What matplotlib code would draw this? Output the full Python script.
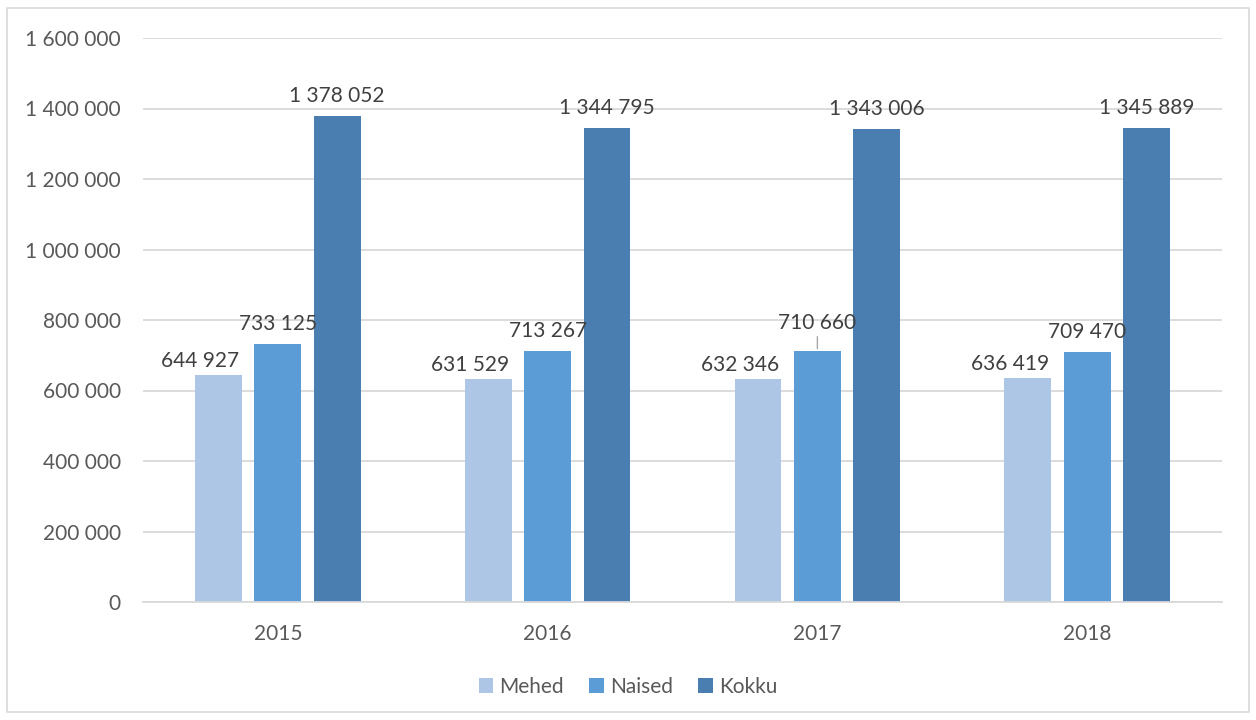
import matplotlib
matplotlib.use('Agg')
from matplotlib import pyplot as plt
from matplotlib.patches import Rectangle
import numpy as np

years = ['2015', '2016', '2017', '2018']
series = ['Mehed', 'Naised', 'Kokku']
mehed = [644927, 631529, 632346, 636419]
naised = [733125, 713267, 710660, 709470]
kokku = [1378052, 1344795, 1343006, 1345889]
colors = ['#ADC6E6', '#5B9BD6', '#4A7EB0']
yticks = [0, 200000, 400000, 600000, 800000, 1000000, 1200000, 1400000, 1600000]

def fmt(v):
  return f'{v:,}'.replace(',', ' ')

plt.rcParams['font.family'] = ['Lato', 'DejaVu Sans']
W, H = 1256, 720
fig = plt.figure(figsize=(W/100, H/100), dpi=100)
fig.patches.append(Rectangle((7/W, 8/H), 1242/W, 704/H, transform=fig.transFigure,
                             fill=False, edgecolor='#D9D9D9', lw=1.2))
ax = fig.add_axes((143/W, 1-602/H, (1222-143)/W, (602-38)/H))

x = np.arange(len(years)) + 0.5
bw = 0.174
step = 0.22
txt = '#404040'
fs = 15
for k, (vals, c) in enumerate(zip([mehed, naised, kokku], colors)):
  xs = x + (k-1)*step
  ax.bar(xs, vals, width=bw, color=c, label=series[k], zorder=2)
  for i, (xi, v) in enumerate(zip(xs, vals)):
    if k == 0:
      dx, dy = -18, 14
    elif k == 1 and i == 2:
      dx, dy = 0, 28
    else:
      dx, dy = 0, 20
    ax.annotate(fmt(v), (xi, v), xytext=(dx*0.72, dy*0.72), textcoords='offset points',
                ha='center', va='center', fontsize=fs, color=txt, zorder=3)
    if k == 1 and i == 2:
      ax.annotate('', (xi, v), xytext=(xi, v+50000),
                  arrowprops=dict(arrowstyle='-', color='#A6A6A6', lw=1))

ax.set_xlim(0, len(years))
ax.set_ylim(0, 1600000)
ax.set_yticks(yticks)
ax.set_yticklabels([fmt(v) for v in yticks])
ax.set_xticks(x)
ax.set_xticklabels(years)
ax.tick_params(axis='both', length=0, labelsize=fs, labelcolor='#595959')
ax.tick_params(axis='y', pad=16)
ax.tick_params(axis='x', pad=16)
ax.yaxis.grid(True, color='#D9D9D9', lw=1.3, zorder=0)
ax.set_axisbelow(True)
for s in ['top', 'right', 'left']:
  ax.spines[s].set_visible(False)
ax.spines['bottom'].set_color('#D9D9D9')
ax.spines['bottom'].set_linewidth(1.3)

leg = fig.legend(loc='center', bbox_to_anchor=(0.5, 1-687/H), ncol=3, frameon=False,
                 fontsize=fs, handlelength=0.7, handleheight=0.7, handletextpad=0.3,
                 columnspacing=1.2, labelcolor='#595959')

fig.savefig('out.png', dpi=100)
